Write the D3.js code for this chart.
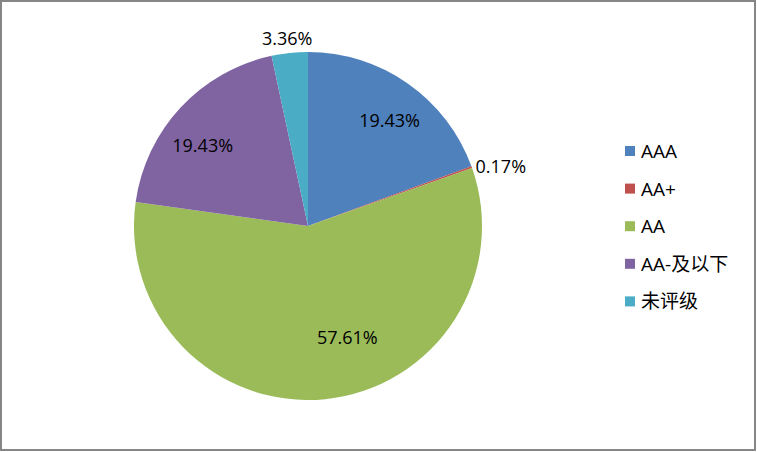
<!DOCTYPE html>
<html><head><meta charset="utf-8">
<script src="https://cdn.jsdelivr.net/npm/d3@7"></script>
<style>body{margin:0;background:#fff}svg{display:block}</style>
</head><body>
<svg id="c" width="757" height="452"></svg>
<script>
const categories = ["AAA", "AA+", "AA", "AA-及以下", "未评级"];
const values = [19.43, 0.17, 57.61, 19.43, 3.36];
const labels = ["19.43%", "0.17%", "57.61%", "19.43%", "3.36%"];
const colors = ["#4F81BD", "#C0504D", "#9BBB59", "#8064A2", "#4BACC6"];

const W = 757, H = 452;
const cx = 308, cy = 226, R = 174;
const font = "'Open Sans','Noto Sans CJK SC',sans-serif";

const svg = d3.select("#c");
svg.append("rect").attr("x", 1).attr("y", 1).attr("width", W - 3).attr("height", H - 3)
  .attr("fill", "#fff").attr("stroke", "#868686").attr("stroke-width", 2);

const pie = d3.pie().sort(null).value(d => d)(values);
const arc = d3.arc().innerRadius(0).outerRadius(R);
const g = svg.append("g").attr("transform", `translate(${cx},${cy})`);
g.selectAll("path").data(pie).join("path")
  .attr("d", arc).attr("fill", (d, i) => colors[i]);

// label placement (polar, relative to slice): inside labels use radius, outside labels hug the rim
const place = [
  {dAng: 2.5, r: 134, anchor: "middle"},
  {dAng: 0, r: 178, anchor: "start"},
  {dAng: -13.7, r: 118, anchor: "middle"},
  {dAng: -5.3, r: 133, anchor: "middle"},
  {dAng: -0.3, r: 189, anchor: "middle"}
];
g.selectAll("text.lbl").data(pie).join("text").attr("class", "lbl")
  .each(function(d, i) {
    const p = place[i];
    const a = (d.startAngle + d.endAngle) / 2 + p.dAng * Math.PI / 180;
    const x = Math.sin(a) * p.r, y = -Math.cos(a) * p.r;
    d3.select(this).attr("x", x).attr("y", y).attr("text-anchor", p.anchor)
      .attr("dominant-baseline", "central");
  })
  .attr("font-family", font).attr("font-size", 18).attr("fill", "#000")
  .text((d, i) => labels[i]);

const leg = svg.append("g").attr("transform", "translate(625,151)");
const ly = d3.scalePoint().domain(categories).range([0, 150.4]);
const items = leg.selectAll("g").data(categories).join("g")
  .attr("transform", d => `translate(0,${ly(d)})`);
items.append("rect").attr("x", 0).attr("y", -5).attr("width", 10).attr("height", 10)
  .attr("fill", (d, i) => colors[i]);
items.append("text").attr("x", 16).attr("y", 0).attr("dominant-baseline", "central")
  .attr("font-family", font).attr("font-size", 19).attr("fill", "#000").text(d => d);
</script>
</body></html>
